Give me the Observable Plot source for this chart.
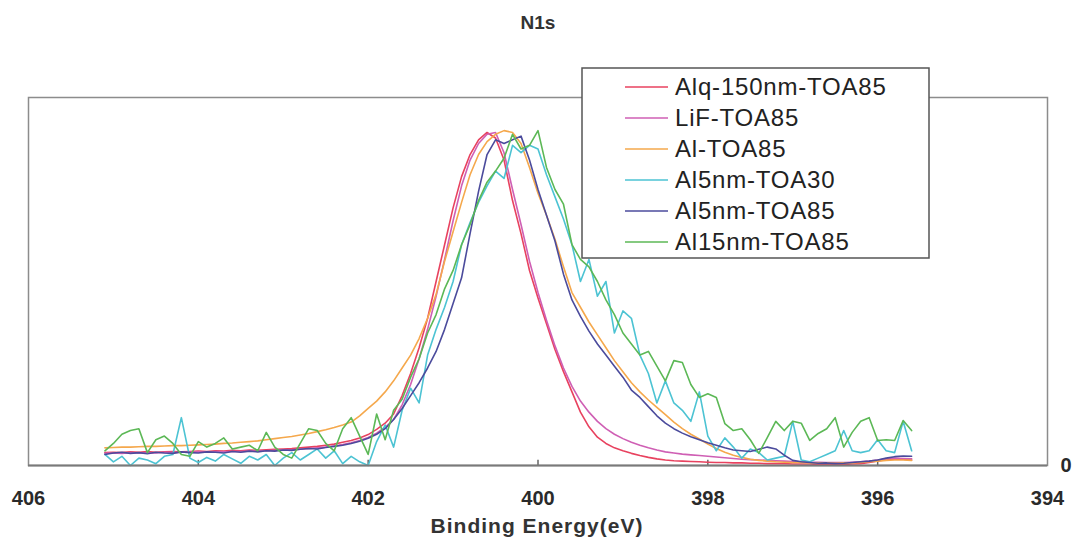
<!DOCTYPE html>
<html>
<head>
<meta charset="utf-8">
<script src="https://cdn.jsdelivr.net/npm/d3@7"></script>
<script src="https://cdn.jsdelivr.net/npm/@observablehq/plot@0.6"></script>
<style>
  html, body { margin: 0; padding: 0; background: #fff; }
  svg { display: block; }
</style>
</head>
<body>
<div id="chart"></div>
<script>
const titleText = "N1s";
const xLabel = "Binding Energy(eV)";
const xTicks = [406, 404, 402, 400, 398, 396, 394];
const yTicks = [0];

const seriesNames = ["Alq-150nm-TOA85", "LiF-TOA85", "Al-TOA85", "Al5nm-TOA30", "Al5nm-TOA85", "Al15nm-TOA85"];
const seriesColors = ["#e8425f", "#cf5fb4", "#f5a84c", "#4cc3d3", "#4b4b9c", "#5cb856"];

const energy = [
  405.1,405.0,404.9,404.8,404.7,404.6,404.5,404.4,404.3,404.2,
  404.1,404.0,403.9,403.8,403.7,403.6,403.5,403.4,403.3,403.2,
  403.1,403.0,402.9,402.8,402.7,402.6,402.5,402.4,402.3,402.2,
  402.1,402.0,401.9,401.8,401.7,401.6,401.5,401.4,401.3,401.2,
  401.1,401.0,400.9,400.8,400.7,400.6,400.5,400.4,400.3,400.2,
  400.1,400.0,399.9,399.8,399.7,399.6,399.5,399.4,399.3,399.2,
  399.1,399.0,398.9,398.8,398.7,398.6,398.5,398.4,398.3,398.2,
  398.1,398.0,397.9,397.8,397.7,397.6,397.5,397.4,397.3,397.2,
  397.1,397.0,396.9,396.8,396.7,396.6,396.5,396.4,396.3,396.2,
  396.1,396.0,395.9,395.8,395.7,395.6
];

const alq150 = [
  .035,.036,.035,.037,.036,.038,.036,.037,.038,.037,
  .038,.039,.038,.040,.039,.041,.040,.042,.041,.043,
  .044,.045,.046,.048,.050,.052,.055,.058,.063,.068,
  .075,.084,.098,.115,.140,.190,.250,.320,.400,.500,
  .600,.700,.785,.845,.885,.905,.890,.830,.720,.630,
  .530,.455,.385,.315,.255,.200,.145,.105,.077,.060,
  .048,.040,.033,.027,.022,.018,.015,.013,.012,.011,
  .010,.009,.008,.008,.007,.007,.006,.006,.005,.005,
  .005,.004,.004,.004,.003,.003,.004,.003,.004,.005,
  .008,.012,.016,.018,.017,.015
];

const lif = [
  .033,.034,.033,.035,.034,.035,.034,.036,.035,.036,
  .036,.037,.036,.038,.037,.038,.038,.039,.039,.040,
  .041,.042,.043,.044,.046,.048,.050,.053,.057,.062,
  .068,.076,.088,.104,.125,.165,.220,.290,.370,.460,
  .560,.665,.760,.830,.875,.900,.905,.850,.750,.655,
  .555,.470,.395,.325,.265,.215,.175,.145,.120,.100,
  .085,.073,.063,.055,.048,.042,.037,.034,.031,.029,
  .027,.025,.023,.021,.019,.017,.016,.015,.014,.013,
  .012,.011,.010,.009,.009,.008,.008,.008,.009,.010,
  .012,.015,.018,.020,.019,.018
];

const al = [
  .048,.049,.050,.050,.051,.052,.052,.053,.054,.054,
  .055,.056,.057,.058,.060,.061,.063,.065,.067,.070,
  .073,.076,.079,.083,.087,.092,.097,.103,.110,.118,
  .135,.155,.175,.200,.230,.265,.300,.345,.400,.465,
  .555,.635,.715,.790,.845,.880,.900,.910,.905,.875,
  .810,.740,.680,.615,.540,.470,.430,.390,.355,.320,
  .285,.255,.225,.200,.178,.158,.138,.118,.100,.085,
  .072,.058,.046,.036,.028,.022,.017,.014,.012,.010,
  .009,.008,.008,.007,.007,.007,.006,.007,.007,.008,
  .010,.012,.014,.015,.015,.014
];

const al5nm30 = [
  .030,.010,.025,.000,.020,.015,.005,.025,.030,.130,
  .020,.008,.022,.012,.030,.018,.006,.025,.015,.030,
  .000,.020,.035,.015,.030,.045,.020,.040,.005,.025,
  .010,.000,.065,.110,.050,.150,.210,.170,.300,.370,
  .430,.500,.600,.660,.715,.760,.800,.780,.870,.850,
  .870,.860,.790,.730,.670,.600,.500,.560,.460,.500,
  .360,.420,.400,.300,.250,.170,.230,.170,.150,.120,
  .200,.080,.040,.075,.050,.020,.045,.035,.015,.020,
  .025,.120,.015,.010,.020,.030,.040,.095,.040,.035,
  .040,.070,.040,.035,.120,.040
];

const al5nm85 = [
  .030,.034,.036,.033,.035,.032,.036,.034,.033,.037,
  .035,.034,.037,.036,.034,.038,.036,.039,.037,.040,
  .039,.042,.041,.044,.046,.045,.049,.052,.055,.060,
  .066,.074,.085,.100,.125,.155,.190,.225,.265,.310,
  .370,.440,.510,.630,.745,.845,.885,.875,.885,.895,
  .830,.750,.680,.610,.520,.450,.405,.365,.330,.300,
  .270,.240,.205,.185,.160,.135,.115,.100,.088,.078,
  .070,.062,.055,.048,.042,.040,.038,.044,.050,.045,
  .028,.014,.010,.008,.006,.007,.005,.006,.008,.010,
  .012,.015,.020,.024,.026,.025
];

const al15nm85 = [
  .040,.060,.085,.095,.100,.035,.070,.080,.060,.030,
  .025,.065,.050,.060,.075,.045,.050,.055,.040,.090,
  .050,.030,.020,.060,.100,.095,.060,.040,.100,.130,
  .080,.030,.140,.070,.150,.180,.240,.290,.360,.410,
  .480,.530,.600,.655,.720,.770,.800,.835,.900,.860,
  .870,.910,.810,.750,.710,.600,.560,.540,.500,.450,
  .410,.360,.330,.300,.310,.270,.230,.285,.280,.220,
  .185,.195,.185,.114,.095,.100,.070,.033,.076,.120,
  .095,.120,.115,.068,.087,.100,.130,.050,.090,.120,
  .130,.068,.070,.068,.122,.095
];

const seriesValues = [alq150, lif, al, al5nm30, al5nm85, al15nm85];

const rows = [];
seriesNames.forEach((name, k) => {
  energy.forEach((e, i) => rows.push({ series: name, e, v: seriesValues[k][i] }));
});

const W = 1077, H = 542;
const fontFamily = "'Liberation Sans', Arial, Helvetica, sans-serif";

const plot = Plot.plot({
  width: W,
  height: H,
  marginLeft: 28,
  marginRight: 30,
  marginTop: 97,
  marginBottom: 77,
  style: { fontFamily, fontSize: "20px", fontWeight: "bold", color: "#2a2a2a", background: "#fff" },
  x: { domain: [406, 394], ticks: xTicks, tickSize: 0, tickPadding: 25, label: null, tickFormat: d => String(d) },
  y: { domain: [0, 1], ticks: yTicks, tickSize: 0, tickPadding: 13, axis: "right", label: null, tickFormat: d => String(d) },
  color: { domain: seriesNames, range: seriesColors },
  marks: [
    Plot.frame({ stroke: "#8c8c8c", strokeWidth: 1.5 }),
    Plot.ruleX(xTicks.slice(1, -1), { y1: 0, y2: 0.014, stroke: "#666", strokeWidth: 1.5 }),
    Plot.line(rows, { x: "e", y: "v", z: "series", stroke: "series", strokeWidth: 1.6, strokeLinejoin: "round" }),
    Plot.ruleY([0], { stroke: "#7a7a7a", strokeWidth: 2 })
  ]
});

document.getElementById("chart").appendChild(plot);

const svg = d3.select(plot);

// Title
svg.append("text")
  .attr("x", 538).attr("y", 29)
  .attr("text-anchor", "middle")
  .style("font-size", "19px")
  .attr("font-weight", "bold")
  .attr("fill", "#333")
  .text(titleText);

// x-axis label
svg.append("text")
  .attr("x", 537).attr("y", 533)
  .attr("text-anchor", "middle")
  .style("font-size", "21px")
  .attr("font-weight", "bold")
  .attr("letter-spacing", 1)
  .attr("fill", "#333")
  .text(xLabel);

// Legend
const lg = svg.append("g").attr("font-weight", "normal");
lg.append("rect")
  .attr("x", 582).attr("y", 68).attr("width", 347).attr("height", 190)
  .attr("fill", "#fff").attr("stroke", "#555").attr("stroke-width", 1.5);
seriesNames.forEach((name, i) => {
  const yy = 87 + i * 31;
  lg.append("line")
    .attr("x1", 625).attr("x2", 668).attr("y1", yy).attr("y2", yy)
    .attr("stroke", seriesColors[i]).attr("stroke-width", 1.6);
  lg.append("text")
    .attr("x", 675).attr("y", yy).attr("dy", "0.35em")
    .attr("text-anchor", "start")
    .style("font-size", "24px").attr("letter-spacing", 0.8)
    .attr("fill", "#222")
    .text(name);
});
</script>
</body>
</html>
